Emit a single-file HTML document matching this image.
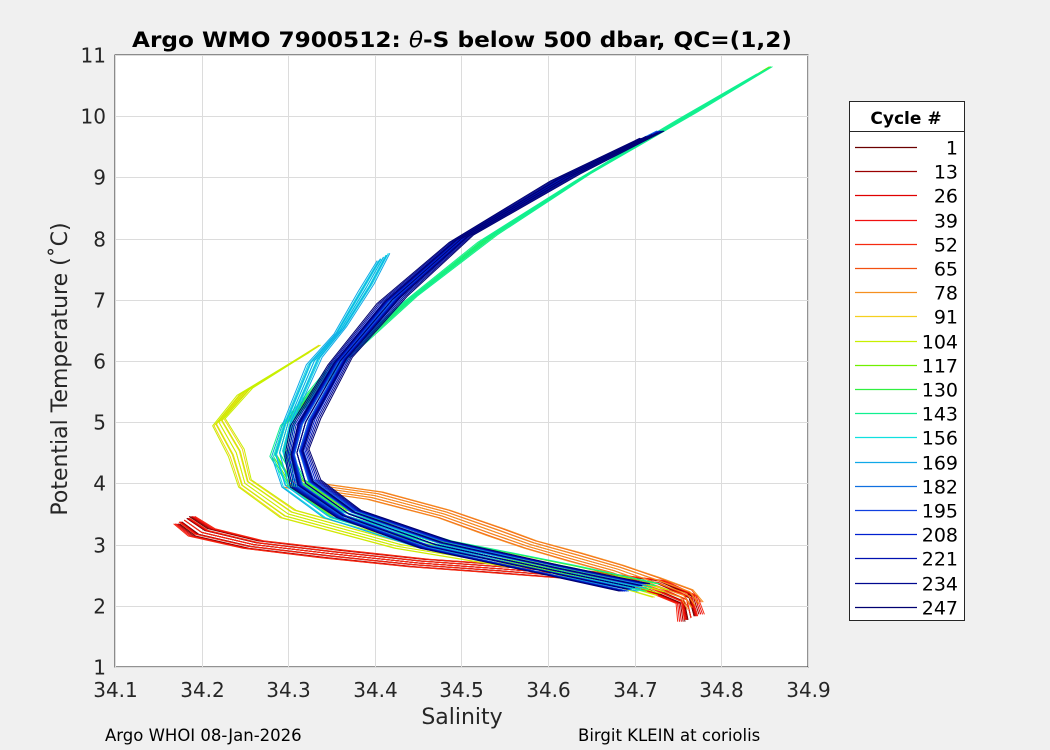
<!DOCTYPE html>
<html><head><meta charset="utf-8"><style>
body{margin:0;background:#f0f0f0;font-family:"Liberation Sans","DejaVu Sans",sans-serif}
svg{display:block}
</style></head><body>
<svg id="c" width="1050" height="750" font-family="DejaVu Sans, Liberation Sans, sans-serif">
<rect x="115" y="55" width="693" height="612" fill="#fff" stroke="#262626"/>
<g id="grid"></g><g id="lines"></g><g id="ticks"></g>
<text x="462" y="47" text-anchor="middle" font-size="21" font-weight="bold" fill="#000" textLength="660" lengthAdjust="spacingAndGlyphs">Argo WMO 7900512: <tspan font-style="italic" font-weight="normal">θ</tspan>-S below 500 dbar,  QC=(1,2)</text>
<text x="462" y="724" text-anchor="middle" font-size="22" fill="#262626">Salinity</text>
<text transform="translate(67,369) rotate(-90)" text-anchor="middle" font-size="22" fill="#262626">Potential Temperature (˚C)</text>
<text x="105" y="741" font-size="16.5" fill="#000">Argo WHOI 08-Jan-2026</text>
<text x="578" y="741" font-size="16.5" fill="#000">Birgit KLEIN at coriolis</text>
<g id="legend">
<rect x="849.5" y="101.5" width="115" height="519" fill="#fff" stroke="#262626"/>
<line x1="849" x2="964" y1="131.5" y2="131.5" stroke="#262626"/>
<text x="906" y="124" text-anchor="middle" font-size="17" font-weight="bold">Cycle #</text>
</g>
</svg>
<script>
const xTicks=[34.1,34.2,34.3,34.4,34.5,34.6,34.7,34.8,34.9];
const yTicks=[1,2,3,4,5,6,7,8,9,10,11];
const cycles=[1,13,26,39,52,65,78,91,104,117,130,143,156,169,182,195,208,221,234,247];
const cycleColors=["#6b0000","#9a0000","#e00000","#f01010","#f52a10","#f25010","#f59020","#f5d020","#c8f000","#70f000","#30f040","#10f090","#10e0e0","#10a8e8","#1070e0","#1040e0","#0020d0","#0010b0","#00088f","#000070"];
const xs=s=>115+(s-34.1)/0.8*693, ys=t=>667-(t-1)/10*612;
const groupTemps=[
 [3.4,3.2,3.0,2.85,2.7,2.6,2.5,2.35,2.1,1.8],
 [4.0,3.8,3.5,3.2,3.0,2.8,2.6,2.4,2.2,2.0],
 [6.2,5.5,5.0,4.5,4.0,3.5,3.0,2.7,2.4,2.2],
 [10.75,10,9,8,7,6,5,4.5,4,3.5,3,2.6,2.3],
 [7.7,7.2,6.5,6,5,4.5,4,3.5,3,2.6,2.3],
 [9.7,9,8,7,6,5,4.5,4,3.5,3,2.6,2.3]];
const groupSal=[
 [34.18,34.20,34.26,34.35,34.45,34.55,34.64,34.72,34.76,34.765],
 [34.30,34.40,34.48,34.54,34.58,34.63,34.68,34.72,34.76,34.77],
 [34.33,34.25,34.22,34.24,34.25,34.30,34.43,34.56,34.68,34.73],
 [34.85,34.76,34.64,34.53,34.44,34.36,34.30,34.29,34.31,34.36,34.48,34.62,34.72],
 [34.41,34.39,34.36,34.33,34.30,34.29,34.30,34.35,34.46,34.60,34.71],
 [34.72,34.62,34.50,34.42,34.36,34.32,34.31,34.32,34.37,34.47,34.60,34.70]];
const groupColorIdx=[[0,1,2,3,4],[5,6],[7,8],[9,10,11],[12,13],[14,15,16,17,18,19]];
const salOffsets=[-0.007,-0.0035,0,0.0035,0.007];
const ns='http://www.w3.org/2000/svg';
function mk(tag,attrs,parent){const e=document.createElementNS(ns,tag);for(const k in attrs)e.setAttribute(k,attrs[k]);parent.appendChild(e);return e;}
const grid=document.getElementById('grid'),tk=document.getElementById('ticks'),ln=document.getElementById('lines'),lg=document.getElementById('legend');
xTicks.forEach(v=>{const x=Math.round(xs(v))+0.5;
 const g=mk('line',{x1:x,x2:x,y1:55,y2:667,stroke:'#dcdcdc','stroke-width':1},grid);
 
 
 const t=mk('text',{x:x,y:697,'text-anchor':'middle','font-size':20,fill:'#262626'},tk);t.textContent=v.toFixed(1);
 
 });
yTicks.forEach(v=>{const y=Math.round(ys(v))+0.5;
 const g=mk('line',{x1:115,x2:808,y1:y,y2:y,stroke:'#dcdcdc','stroke-width':1},grid);
 
 
 const t=mk('text',{x:106,y:y+7,'text-anchor':'end','font-size':20,fill:'#262626'},tk);t.textContent=v;
 
 });
groupTemps.forEach((temps,g)=>{
 groupColorIdx[g].forEach((ci,k)=>{
  salOffsets.forEach((off,j)=>{
   const o=off*(1+0.3*k);
   const tOff=(j-2)*0.03;
   const pts=temps.map((t,i)=>xs(groupSal[g][i]+o*(i%2?1:0.8))+','+ys(t+tOff)).join(' ');
   const p=mk('polyline',{points:pts,fill:'none',stroke:cycleColors[ci],'stroke-width':1,'stroke-linejoin':'round'},ln);
   
   
  });
 });
});
cycles.forEach((c,i)=>{const y=Math.round(147+i*24.2)+0.5;
 const l=mk('line',{x1:855,x2:917,y1:y,y2:y,stroke:cycleColors[i],'stroke-width':1.3},lg);
 
 
 const t=mk('text',{x:958,y:y+7,'text-anchor':'end','font-size':19,fill:'#000'},lg);t.textContent=c;
 
 });
</script>
</body></html>
